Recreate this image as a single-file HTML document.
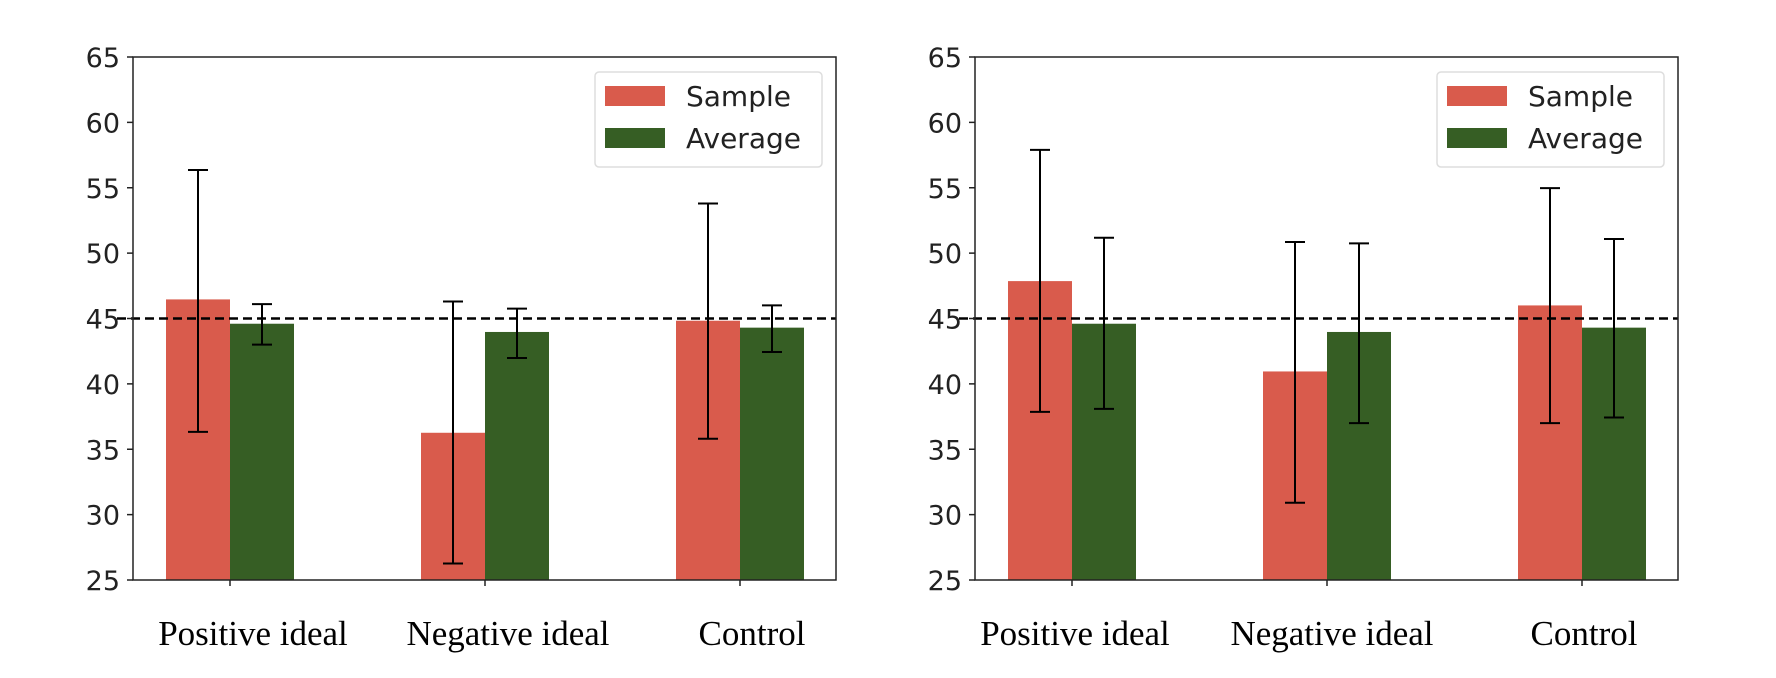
<!DOCTYPE html>
<html><head><meta charset="utf-8"><style>
html,body{margin:0;padding:0;background:#fff;}
svg{display:block;}
</style></head><body>
<svg id="chart" width="1776" height="678" viewBox="0 0 1776 678" xmlns="http://www.w3.org/2000/svg"></svg>
<script>
const categories = ["Positive ideal", "Negative ideal", "Control"];
const yTicks = [25, 30, 35, 40, 45, 50, 55, 60, 65];
const refLine = 45;
// Panel 1
const p1Sample = [46.46, 36.26, 44.83];
const p1SampleLo = [36.33, 26.26, 35.8];
const p1SampleHi = [56.36, 46.3, 53.8];
const p1Avg = [44.6, 43.97, 44.3];
const p1AvgLo = [43.0, 41.98, 42.44];
const p1AvgHi = [46.1, 45.76, 46.0];
// Panel 2
const p2Sample = [47.86, 40.95, 46.0];
const p2SampleLo = [37.86, 30.91, 37.0];
const p2SampleHi = [57.9, 50.85, 54.97];
const p2Avg = [44.6, 43.97, 44.3];
const p2AvgLo = [38.09, 37.0, 37.43];
const p2AvgHi = [51.18, 50.75, 51.08];

const svg = document.getElementById('chart');
const NS = 'http://www.w3.org/2000/svg';
function mk(tag, attrs, parent) {
  const e = document.createElementNS(NS, tag);
  for (const k in attrs) e.setAttribute(k, attrs[k]);
  (parent || svg).appendChild(e);
  return e;
}
const RED = '#d95b4c', GREEN = '#365e24';
const TOP = 57, BOT = 580, YMIN = 25, YMAX = 65;
function yScale(v) { return BOT - (v - YMIN) / (YMAX - YMIN) * (BOT - TOP); }

function panel(ox, idx, sample, sLo, sHi, avg, aLo, aHi, labelCenters) {
  const left = 133 + ox, right = 836 + ox;
  const g = mk('g', {});
  
  
  function xScale(i) { return 230 + ox + i * 255; }
  const bw = 64;
  categories.forEach((c, i) => {
    const cx = xScale(i);
    const r = mk('rect', {x: cx - bw, y: yScale(sample[i]), width: bw, height: BOT - yScale(sample[i]), fill: RED}, g);
    
    
    const r2 = mk('rect', {x: cx, y: yScale(avg[i]), width: bw, height: BOT - yScale(avg[i]), fill: GREEN}, g);
    
    
  });
  const ref = mk('line', {x1: left - 16, x2: right, y1: yScale(refLine), y2: yScale(refLine), stroke: '#000', 'stroke-width': 2.5, 'stroke-dasharray': '9,5'}, g);
  
  
  categories.forEach((c, i) => {
    const cx = xScale(i);
    [[cx - bw / 2, sLo[i], sHi[i], 'sample'], [cx + bw / 2, aLo[i], aHi[i], 'average']].forEach(([x, lo, hi, n]) => {
      const eg = mk('g', {stroke: '#000', 'stroke-width': 2}, g);
      
      
      mk('line', {x1: x, x2: x, y1: yScale(lo), y2: yScale(hi)}, eg);
      mk('line', {x1: x - 10, x2: x + 10, y1: yScale(lo), y2: yScale(lo)}, eg);
      mk('line', {x1: x - 10, x2: x + 10, y1: yScale(hi), y2: yScale(hi)}, eg);
    });
  });
  const fr = mk('rect', {x: left, y: TOP, width: right - left, height: BOT - TOP, fill: 'none', stroke: '#222', 'stroke-width': 1.5}, g);
  
  
  yTicks.forEach(t => {
    const y = yScale(t);
    mk('line', {x1: left - 6, x2: left, y1: y, y2: y, stroke: '#222', 'stroke-width': 1.5}, g);
    const tx = mk('text', {x: left - 13, y: y + 10, 'text-anchor': 'end', 'font-family': '"DejaVu Sans", "Liberation Sans", sans-serif', 'font-size': 27, fill: '#222'}, g);
    
    
    tx.textContent = t;
  });
  categories.forEach((c, i) => {
    const x = xScale(i);
    mk('line', {x1: x, x2: x, y1: BOT, y2: BOT + 6, stroke: '#222', 'stroke-width': 1.5}, g);
    const tx = mk('text', {x: labelCenters[i], y: 645, 'text-anchor': 'middle', 'font-family': '"Liberation Serif", serif', 'font-size': 35, fill: '#000'}, g);
    
    
    tx.textContent = c;
  });
  const lg = mk('g', {}, g);
  
  
  mk('rect', {x: 595 + ox, y: 72, width: 227, height: 95, rx: 4, fill: '#fff', stroke: '#ddd', 'stroke-width': 1.5}, lg);
  [['Sample', RED, 86], ['Average', GREEN, 128]].forEach(([name, col, y]) => {
    const e = mk('g', {}, lg);
    
    
    mk('rect', {x: 605 + ox, y: y, width: 60, height: 20, fill: col}, e);
    const t = mk('text', {x: 686 + ox, y: y + 20, 'font-family': '"DejaVu Sans", "Liberation Sans", sans-serif', 'font-size': 28, fill: '#222'}, e);
    t.textContent = name;
  });
}
panel(0, 1, p1Sample, p1SampleLo, p1SampleHi, p1Avg, p1AvgLo, p1AvgHi, [253, 508, 752]);
panel(842, 2, p2Sample, p2SampleLo, p2SampleHi, p2Avg, p2AvgLo, p2AvgHi, [1075, 1332, 1584]);
</script>
</body></html>
